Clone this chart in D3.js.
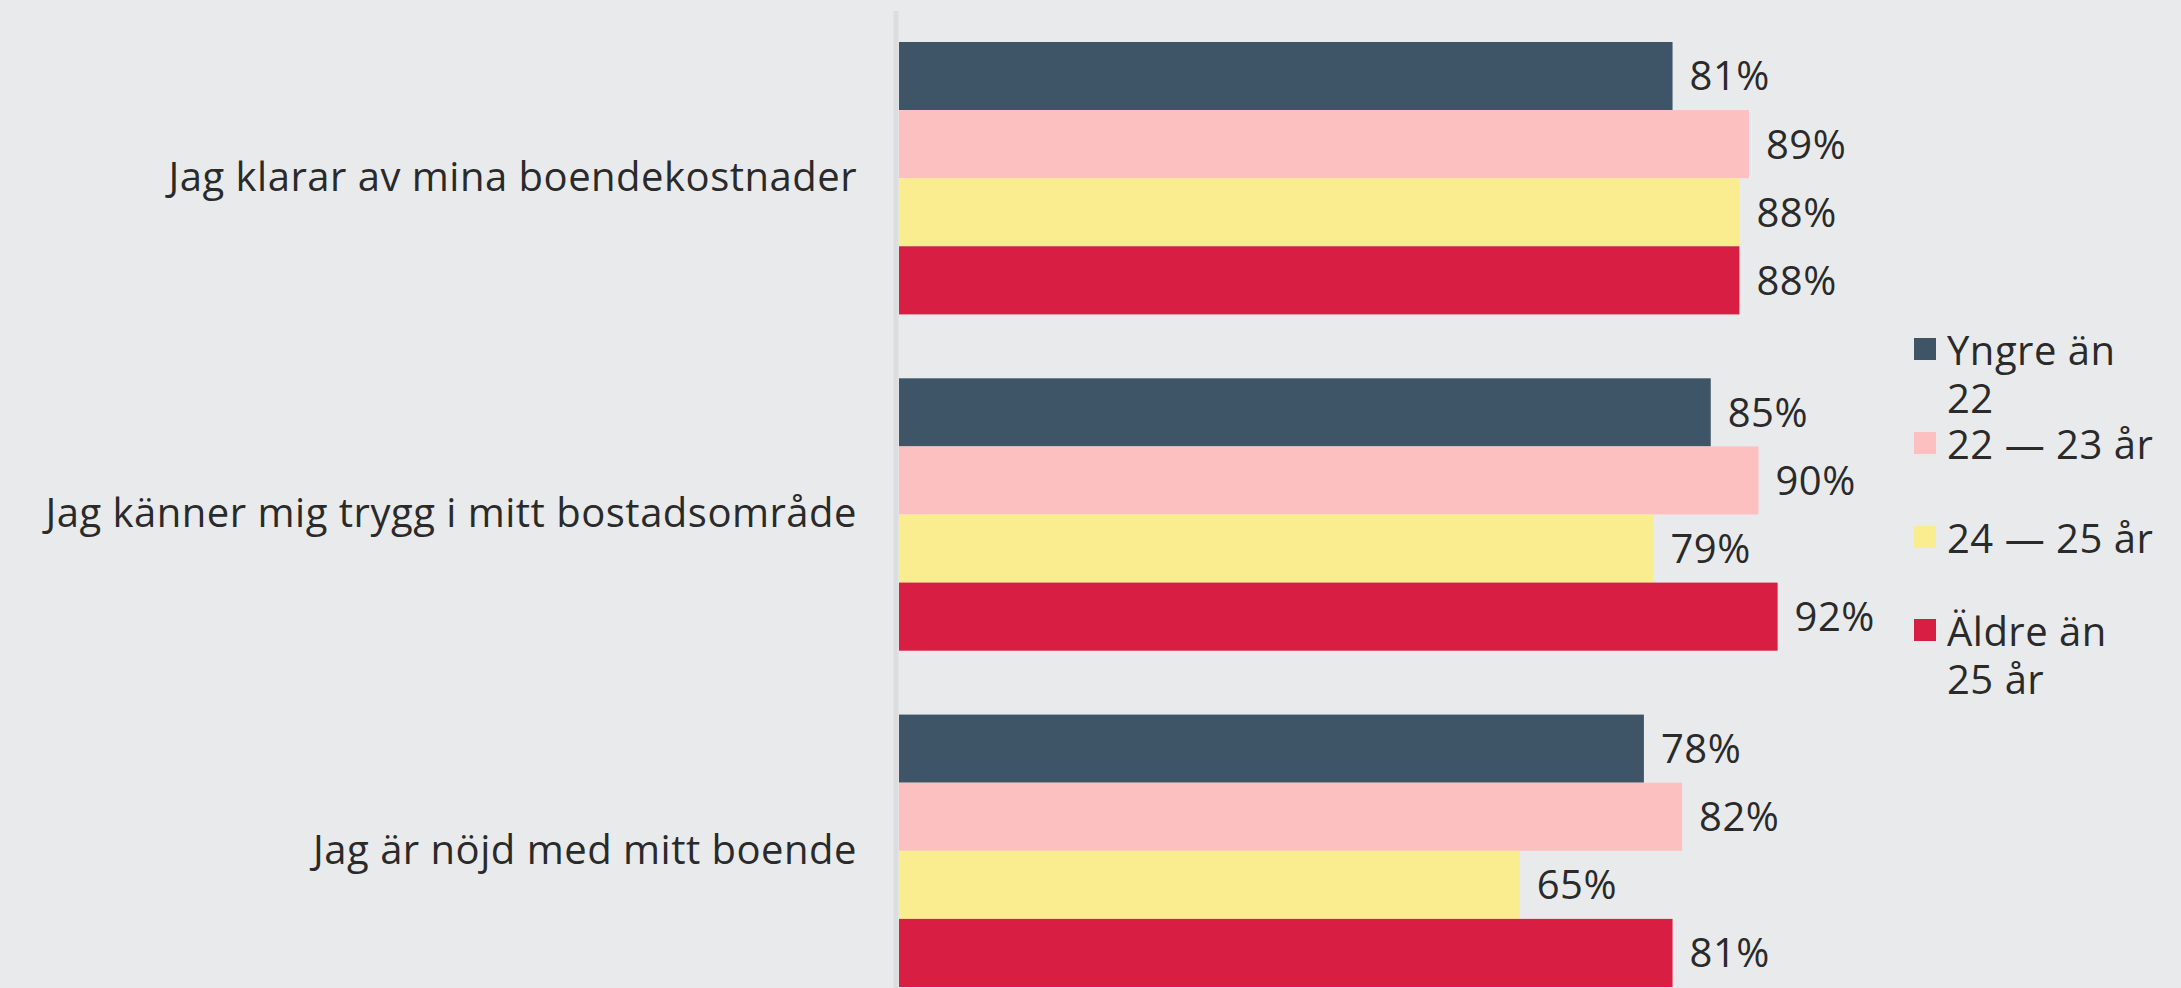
<!DOCTYPE html>
<html>
<head>
<meta charset="utf-8">
<script src="https://cdn.jsdelivr.net/npm/d3@7"></script>
<style>
  html, body { margin: 0; padding: 0; background: #e9eaec; }
  svg { display: block; }
  text { font-family: "Open Sans", Lato, sans-serif; fill: #2a2a2a; letter-spacing: 0.5px; }
</style>
</head>
<body>
<svg id="chart" width="2181" height="988"></svg>
<script>
// Statements (y categories)
const statements = [
  "Jag klarar av mina boendekostnader",
  "Jag känner mig trygg i mitt bostadsområde",
  "Jag är nöjd med mitt boende"
];
// Age groups (series)
const ageGroups = ["Yngre än 22", "22 — 23 år", "24 — 25 år", "Äldre än 25 år"];
const groupColors = ["#3e5567", "#fdc0c0", "#faed8f", "#d81f43"];

// Share agreeing, per statement, per age group (%)
const youngerThan22 = [81, 85, 78];
const age22to23     = [89, 90, 82];
const age24to25     = [88, 79, 65];
const olderThan25   = [88, 92, 81];
const seriesValues = [youngerThan22, age22to23, age24to25, olderThan25];

const rows = [];
statements.forEach((s, i) => {
  ageGroups.forEach((g, j) => rows.push({ statement: s, group: g, value: seriesValues[j][i] }));
});

const svg = d3.select("#chart");

const x = d3.scaleLinear().domain([0, 100]).range([899, 1854]);
const y0 = d3.scaleBand().domain(statements).range([42, 987]).paddingInner(0.19).paddingOuter(0);
const y1 = d3.scaleBand().domain(ageGroups).range([0, y0.bandwidth()]).padding(0);
const color = d3.scaleOrdinal().domain(ageGroups).range(groupColors);

const fontSize = 40;
const fontFamily = "'Open Sans', Lato, sans-serif";

// Baseline axis
svg.append("line")
  .attr("x1", x(0) - 3).attr("x2", x(0) - 3)
  .attr("y1", 11).attr("y2", 988)
  .attr("stroke", "#dcdddf").attr("stroke-width", 5);

// Bars
const groups = svg.selectAll("g.stmt").data(statements).join("g")
  .attr("class", "stmt")
  .attr("transform", d => `translate(0,${y0(d)})`);

groups.selectAll("rect")
  .data(s => rows.filter(r => r.statement === s))
  .join("rect")
  .attr("x", x(0))
  .attr("y", d => y1(d.group))
  .attr("width", d => x(d.value) - x(0))
  .attr("height", y1.bandwidth())
  .attr("fill", d => color(d.group));

// Value labels
groups.selectAll("text.val")
  .data(s => rows.filter(r => r.statement === s))
  .join("text")
  .attr("class", "val")
  .attr("x", d => x(d.value) + 17)
  .attr("y", d => y1(d.group) + y1.bandwidth() / 2)
  .attr("dy", "0.36em")
  .style("font-size", fontSize + "px")
  .text(d => d.value + "%");

// Category axis labels
const yAxis = d3.axisLeft(y0).tickSize(0).tickPadding(42);
const ax = svg.append("g").attr("transform", `translate(${x(0)},0)`).call(yAxis);
ax.select(".domain").remove();
ax.selectAll("text")
  .style("font-size", fontSize + "px")
  .style("font-family", fontFamily)
  .attr("fill", "#2a2a2a");

// Legend
const legendTop = [338, 432, 526, 619];
const legend = svg.append("g");
const item = legend.selectAll("g").data(ageGroups).join("g")
  .attr("transform", (d, i) => `translate(1914,${legendTop[i]})`);
item.append("rect").attr("width", 22).attr("height", 22).attr("fill", d => color(d));
item.append("text")
  .attr("x", 33)
  .attr("y", 27)
  .style("font-size", fontSize + "px")
  .each(function(d) {
    const t = d3.select(this);
    const words = d.split(" ");
    const maxW = 212;
    let line = [];
    let tspan = t.append("tspan").attr("x", 33).attr("dy", 0);
    words.forEach(w => {
      line.push(w);
      tspan.text(line.join(" "));
      if (tspan.node().getComputedTextLength() > maxW && line.length > 1) {
        line.pop();
        tspan.text(line.join(" "));
        line = [w];
        tspan = t.append("tspan").attr("x", 33).attr("dy", 48).text(w);
      }
    });
  });
</script>
</body>
</html>
